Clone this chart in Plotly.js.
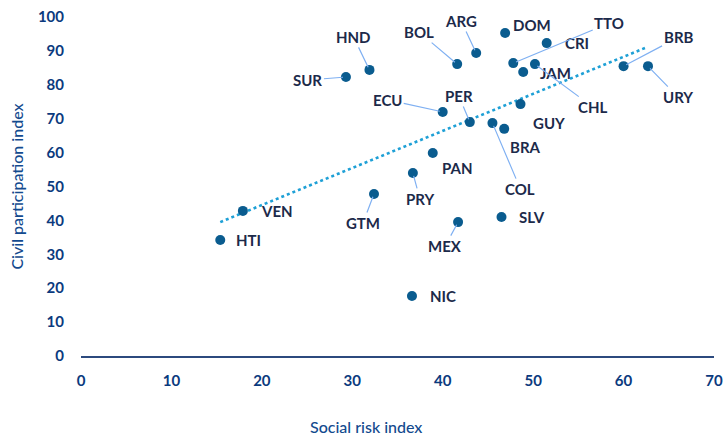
<!DOCTYPE html>
<html><head><meta charset="utf-8">
<script src="https://cdn.plot.ly/plotly-3.0.1.min.js"></script>
<style>html,body{margin:0;padding:0;background:#fff}#chart{width:727px;height:439px}</style>
</head><body><div id="chart"></div>
<script>
const countries = ["HTI","VEN","GTM","PRY","PAN","MEX","SLV","NIC","COL","BRA","GUY","PER","ECU","SUR","HND","BOL","ARG","DOM","CRI","TTO","JAM","CHL","BRB","URY"];
const socialRisk = [15.4,17.9,32.4,36.7,38.9,41.7,46.5,36.6,45.5,46.8,48.6,43.0,40.0,29.3,31.9,41.6,43.7,46.9,51.5,47.8,48.9,50.2,60.0,62.7];
const civilPart = [34.2,42.8,47.8,54.0,59.9,39.5,41.0,17.7,68.7,67.0,74.3,69.0,72.0,82.3,84.4,86.1,89.4,95.3,92.3,86.4,83.8,86.1,85.5,85.5];
const trendX = [15.4,62.5];
const trendY = [39.5,91.0];
const xTicks = [0,10,20,30,40,50,60,70];
const yTicks = [0,10,20,30,40,50,60,70,80,90,100];

// label placement: [dx, dy, leader line?] in pixels (dy positive = down)
const labelPos = {
  HTI:[14,0,false], VEN:[16,0,false], GTM:[-11,29,true], PRY:[7,26,true],
  PAN:[7,15,false], MEX:[-13,24,true], SLV:[16,0,false], NIC:[16,0,false],
  COL:[28,66,true], BRA:[4,18,false], GUY:[11,19,false], PER:[-11,-26,true],
  ECU:[-55,-12,true], SUR:[-38,3,true], HND:[-16,-33,true], BOL:[-38,-32,true],
  ARG:[-15,-32,true], DOM:[6,-8,false], CRI:[16,0,false], TTO:[96,-40,true],
  JAM:[15,1,false], CHL:[58,43,true], BRB:[55,-29,true], URY:[30,31,true]
};

const labelFont = {family:"Lato, 'Open Sans', sans-serif", size:15, color:"#1c2a4a", weight:700};
const annotations = countries.map((c,i)=>{
  const p = labelPos[c];
  if (p[2]) {
    return {x:socialRisk[i], y:civilPart[i], xref:'x', yref:'y', text:c, showarrow:true,
      ax:p[0], ay:p[1], arrowhead:0, arrowwidth:1.2, arrowcolor:'#7fb0f2', standoff:3,
      font:labelFont};
  }
  return {x:socialRisk[i], y:civilPart[i], xref:'x', yref:'y', text:c, showarrow:false,
    xanchor:'left', yanchor:'middle', xshift:p[0], yshift:-p[1], font:labelFont};
});
const titleFont = {family:"Lato, 'Open Sans', sans-serif", size:16, color:'#134a8e', weight:500};
annotations.push({xref:'paper', yref:'paper', x:0.45, y:0, yshift:-70, yanchor:'middle', xanchor:'center',
  showarrow:false, text:'Social risk index', font:titleFont});

const traces = [
  {x:trendX, y:trendY, mode:'lines', type:'scatter', hoverinfo:'skip',
   line:{color:'#1ea0d6', width:2.6, dash:'dot'}},
  {x:socialRisk, y:civilPart, text:countries, mode:'markers', type:'scatter',
   marker:{color:'#0a5c8f', size:10}}
];

const tickFont = {family:"Lato, 'Open Sans', sans-serif", size:15, color:'#0b3a7e', weight:700};
const layout = {
  width:727, height:439, showlegend:false,
  margin:{l:81, r:13, t:17, b:83},
  paper_bgcolor:'#fff', plot_bgcolor:'#fff',
  xaxis:{range:[0,70], tickvals:xTicks, showgrid:false, zeroline:false,
    showline:true, linecolor:'#2c4a7e', linewidth:1.5, ticks:'', ticklabelstandoff:10,
    tickfont:tickFont},
  yaxis:{range:[0,100], tickvals:yTicks, showgrid:false, zeroline:false, showline:false,
    ticks:'', ticklabelstandoff:16, tickfont:tickFont,
    title:{text:'Civil participation index', standoff:10, font:titleFont}},
  annotations:annotations
};
Plotly.newPlot('chart', traces, layout, {displayModeBar:false, staticPlot:true});
</script></body></html>
